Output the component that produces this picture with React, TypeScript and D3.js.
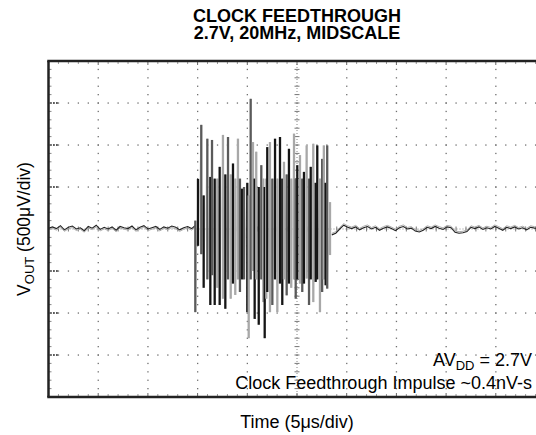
import React from 'react';
import * as d3 from 'd3';

// ---- Text ----
const titleLines = ['CLOCK FEEDTHROUGH', '2.7V, 20MHz, MIDSCALE'];
const xAxisLabel = 'Time (5μs/div)';
const noteImpulse = 'Clock Feedthrough Impulse ~0.4nV-s';

// ---- Scope settings ----
const usPerDiv = 5;
const uvPerDiv = 500;
const xDivs = 10;
const yDivs = 8;

// ---- Baseline before burst (µV), sampled every 0.4 µs from t=0 ----
const preStep = 0.4;
const preV = [10, 25, 5, 40, -10, 20, 35, 0, 15, -20, 30, 10, 45, -5, 20, 0, 25, -15, 30, 15, 5, 35, -10, 20, 40, 0, 15, 30, -5, 25, 10, 35, 20, -10, 15, 30, 5, 45];

// ---- Burst spikes (time µs, upper µV, lower µV, trace shade) ----
const spikeT = [14.77, 15.04, 15.37, 15.61, 15.98, 16.28, 16.45, 16.72, 16.98, 17.22, 17.55, 17.79, 18.06, 18.33, 18.56, 18.79, 19.06, 19.26, 19.47, 19.67, 20.0, 20.14, 20.34, 20.57, 20.74, 20.9, 21.15, 21.41, 21.61, 21.75, 21.91, 22.01, 22.28, 22.52, 22.79, 23.02, 23.29, 23.52, 23.69, 23.96, 24.19, 24.42, 24.7, 24.87, 25.03, 25.3, 25.53, 25.7, 25.97, 26.21, 26.38, 26.64, 26.88, 27.04, 27.31, 27.53, 27.7, 27.88, 28.04, 28.32];
const spikeHi = [100, 595, 1240, 400, 1075, 620, 1060, 600, 600, 740, 1120, 650, 1095, 650, 780, 600, 1075, 600, 480, 500, 550, 400, 1550, 1035, 600, 920, 500, 760, 600, 500, 600, 975, 1035, 600, 1075, 600, 1095, 600, 800, 650, 955, 600, 1135, 600, 760, 880, 600, 680, 995, 600, 740, 1015, 550, 995, 600, 835, 995, 550, 995, 320];
const spikeLo = [-990, -200, -300, -700, -600, -905, -550, -905, -700, -905, -830, -950, -600, -830, -650, -785, -600, -750, -600, -600, -990, -1300, -600, -500, -1070, -600, -1140, -600, -870, -1300, -830, -750, -990, -905, -600, -990, -650, -905, -600, -790, -650, -700, -600, -830, -600, -650, -750, -650, -590, -905, -600, -870, -630, -600, -990, -750, -600, -670, -710, -310];
const spikeShade = [1, 0, 1, 0, 1, 0, 1, 0, 2, 0, 2, 0, 1, 2, 0, 2, 2, 1, 0, 1, 0, 2, 1, 2, 0, 2, 0, 1, 2, 0, 2, 0, 2, 1, 0, 2, 0, 0, 2, 1, 0, 2, 2, 1, 0, 2, 1, 0, 2, 1, 0, 2, 0, 0, 2, 1, 2, 0, 1, 2];

// ---- Baseline after burst (µV), sampled every 0.4 µs from t=28.5 ----
const postStart = 28.5;
const postStep = 0.4;
const postV = [-70, -50, 0, 45, 20, 5, 25, -10, 15, 30, 0, 20, -15, 10, 25, 5, -20, 15, 30, 0, 10, -25, -35, -15, 20, 5, 30, 10, -5, 25, 15, -40, -50, -45, -30, 20, 5, 25, -5, 15, 0, 30, 10, -15, 20, 5, 25, 0, 15, -10, 20, 10, 5];

const W = 536;
const H = 435;
const left = 48.5;
const right = 545.5;
const top = 61;
const bottom = 397;
const font = 'Liberation Sans, Arial, Helvetica, sans-serif';

export default function App() {
  const x = d3.scaleLinear().domain([0, xDivs * usPerDiv]).range([left, right]);
  const y = d3.scaleLinear().domain([-(yDivs / 2) * uvPerDiv, (yDivs / 2) * uvPerDiv]).range([bottom, top]);

  const majorX = d3.range(0, xDivs + 1).map((i) => i * usPerDiv);
  const majorY = d3.range(-yDivs / 2, yDivs / 2 + 1).map((i) => i * uvPerDiv);
  const minorX = d3.range(0, xDivs * 5 + 1).map((i) => (i * usPerDiv) / 5);
  const minorY = d3.range(-yDivs * 5 / 2, (yDivs * 5) / 2 + 1).map((i) => (i * uvPerDiv) / 5);
  const centerX = (xDivs / 2) * usPerDiv;

  const dotColor = '#707070';
  const dots: React.ReactNode[] = [];
  majorX.forEach((mx, i) => {
    if (i === 0 || i === xDivs || mx === centerX) return;
    minorY.forEach((my, j) => {
      dots.push(<rect key={`v${i}-${j}`} x={x(mx) - 0.6} y={y(my) - 0.6} width={1.3} height={1.3} fill={dotColor} />);
    });
  });
  majorY.forEach((my, i) => {
    if (i === 0 || i === yDivs || my === 0) return;
    minorX.forEach((mx, j) => {
      dots.push(<rect key={`h${i}-${j}`} x={x(mx) - 0.6} y={y(my) - 0.6} width={1.3} height={1.3} fill={dotColor} />);
    });
    [1.5, 4.5, 7.5].forEach((o, k) => {
      dots.push(<rect key={`hl${i}-${k}`} x={left + o} y={y(my) - 0.8} width={1.8} height={1.6} fill="#333" />);
    });
  });
  const centerEls: React.ReactNode[] = [];
  centerEls.push(<line key="cv" x1={x(centerX)} x2={x(centerX)} y1={top} y2={bottom} stroke="#888" strokeWidth={1} strokeDasharray="1 2" />);
  centerEls.push(<line key="ch" x1={left} x2={W} y1={y(0)} y2={y(0)} stroke="#888" strokeWidth={1} strokeDasharray="1 2" />);
  minorY.forEach((my, j) => {
    centerEls.push(<line key={`cvt${j}`} x1={x(centerX) - 2.5} x2={x(centerX) + 2.5} y1={y(my)} y2={y(my)} stroke="#777" strokeWidth={1} />);
  });
  minorX.forEach((mx, j) => {
    centerEls.push(<line key={`cht${j}`} x1={x(mx)} x2={x(mx)} y1={y(0) - 2.5} y2={y(0) + 2.5} stroke="#777" strokeWidth={1} />);
  });
  const borderTicks: React.ReactNode[] = [];
  minorX.forEach((mx, j) => {
    const isMajor = j % 5 === 0;
    const len = isMajor ? 4 : 3;
    borderTicks.push(<line key={`bt${j}`} x1={x(mx)} x2={x(mx)} y1={top} y2={top + len} stroke={isMajor ? '#666' : '#999'} strokeWidth={1} />);
    borderTicks.push(<line key={`bb${j}`} x1={x(mx)} x2={x(mx)} y1={bottom} y2={bottom - len} stroke={isMajor ? '#666' : '#999'} strokeWidth={1} />);
  });
  minorY.forEach((my, j) => {
    borderTicks.push(<line key={`bl${j}`} x1={left} x2={left + 3} y1={y(my)} y2={y(my)} stroke="#888" strokeWidth={1} />);
  });

  const line = d3.line<[number, number]>().x((d) => x(d[0])).y((d) => y(d[1]));
  const prePts: [number, number][] = preV.map((v, i) => [i * preStep, v]);
  const postPts: [number, number][] = postV.map((v, i) => [postStart + i * postStep, v]);
  const shadeColors = ['#151515', '#5a5a5a', '#a8a8a8'];

  const burstPath: [number, number][] = [];
  spikeT.forEach((t, i) => {
    burstPath.push([t, spikeHi[i]]);
    burstPath.push([t, spikeLo[i]]);
  });

  return (
    <svg width={W} height={H} style={{ position: 'absolute', left: 0, top: 0, background: '#fff' }} fontFamily={font}>
      <rect x={0} y={0} width={W} height={H} fill="#fff" />
      {titleLines.map((t, i) => (
        <text key={t} x={297} y={22 + i * 17} textAnchor="middle" fontWeight="bold" fontSize={18} fill="#000">
          {t}
        </text>
      ))}
      {dots}
      {centerEls}
      {borderTicks}
      <path d={line(prePts) || ''} fill="none" stroke="#aaa" strokeWidth={1} transform="translate(0,1.5)" />
      <path d={line(prePts) || ''} fill="none" stroke="#222" strokeWidth={1.1} />
      <path d={line(postPts) || ''} fill="none" stroke="#aaa" strokeWidth={1} transform="translate(0,-1.5)" />
      <path d={line(postPts) || ''} fill="none" stroke="#222" strokeWidth={1.1} />
      <path d={line(burstPath) || ''} fill="none" stroke="#bbb" strokeWidth={0.5} />
      {spikeT.map((t, i) => (
        <line
          key={`s${i}`}
          x1={x(t)}
          x2={x(t)}
          y1={y(spikeHi[i])}
          y2={y(spikeLo[i])}
          stroke={shadeColors[spikeShade[i]]}
          strokeWidth={2.3}
        />
      ))}
      <line x1={left} x2={left} y1={top} y2={bottom} stroke="#222" strokeWidth={2.5} />
      <line x1={left - 1.25} x2={W} y1={top} y2={top} stroke="#222" strokeWidth={2.5} />
      <line x1={left - 1.25} x2={W} y1={bottom} y2={bottom} stroke="#222" strokeWidth={2.5} />
      <text x={532} y={366} textAnchor="end" fontSize={18} fill="#000">
        AV<tspan fontSize={13} dy={4}>DD</tspan>
        <tspan dy={-4}> = 2.7V</tspan>
      </text>
      <text x={532} y={389} textAnchor="end" fontSize={18} fill="#000">
        {noteImpulse}
      </text>
      <text x={297} y={428} textAnchor="middle" fontSize={18} fill="#000">
        {xAxisLabel}
      </text>
      <text transform={`translate(30, 229) rotate(-90)`} textAnchor="middle" fontSize={17.5} fill="#000">
        V<tspan fontSize={13} dy={4}>OUT</tspan>
        <tspan dy={-4}> (500μV/div)</tspan>
      </text>
    </svg>
  );
}
